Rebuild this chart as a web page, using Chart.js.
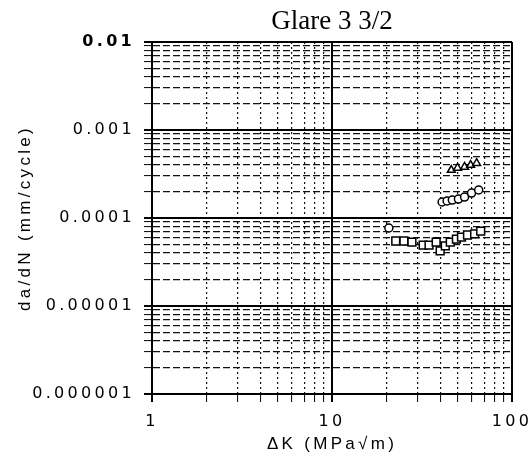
<!DOCTYPE html>
<html>
<head>
<meta charset="utf-8">
<script src="https://cdn.jsdelivr.net/npm/chart.js@4/dist/chart.umd.min.js"></script>
<style>
  html, body { margin: 0; padding: 0; background: #fff; }
  #wrap { width: 531px; height: 463px; }
</style>
</head>
<body>
<div id="wrap"><canvas id="crackChart"></canvas></div>
<script>
// Glare 3 3/2 - crack growth rate vs stress intensity range
const titleText = 'Glare 3 3/2';
const xTitle = 'ΔK (MPa√m)';
const yTitle = 'da/dN (mm/cycle)';

// upper series (triangles)
const triK = [46.0, 49.8, 54.5, 58.9, 63.6];
const triRate = [3.5e-4, 3.7e-4, 3.8e-4, 4.0e-4, 4.2e-4];

// middle series (circles)
const circK = [40.9, 43.6, 46.6, 50.4, 54.5, 59.6, 65.3];
const circRate = [1.52e-4, 1.56e-4, 1.60e-4, 1.64e-4, 1.73e-4, 1.92e-4, 2.08e-4];

// lower series, first point circle then squares
const lowCircK = [20.7];
const lowCircRate = [7.7e-5];
const sqK = [22.6, 25.1, 27.8, 32.1, 34.6, 37.9, 39.9, 42.6, 45.4, 49.1, 52.4, 56.6, 62.0, 67.0];
const sqRate = [5.48e-5, 5.48e-5, 5.33e-5, 4.93e-5, 4.93e-5, 5.33e-5, 4.22e-5, 4.81e-5, 5.33e-5, 5.77e-5, 6.08e-5, 6.41e-5, 6.6e-5, 7.1e-5];

// axis ranges and tick labels
const xDecades = [0, 1, 2];              // 1, 10, 100
const yDecades = [-6, -5, -4, -3, -2];   // 1e-6 .. 1e-2
const xTickLabels = ['1', '10', '100'];
const yTickLabels = ['0.000001', '0.00001', '0.0001', '0.001', '0.01'];

function gridValues(decades) {
  const vals = [];
  for (let i = 0; i < decades.length; i++) {
    const base = Math.pow(10, decades[i]);
    if (i === decades.length - 1) { vals.push(base); break; }
    for (let s = 1; s <= 9; s++) vals.push(s * base);
  }
  return vals;
}

function isDecade(v) {
  const e = Math.log10(v);
  return Math.abs(e - Math.round(e)) < 1e-6;
}

function toPoints(xs, ys) {
  return xs.map((x, i) => ({ x: x, y: ys[i] }));
}

const spacingPlugin = {
  id: 'spacing',
  beforeLayout(chart) { chart.ctx.letterSpacing = '3.3px'; },
  beforeDraw(chart) { chart.ctx.letterSpacing = '3.3px'; },
  afterDraw(chart) {
    const ctx = chart.ctx;
    const area = chart.chartArea;
    ctx.save();
    ctx.letterSpacing = '0px';
    ctx.font = '27px "Liberation Serif", "Times New Roman", serif';
    ctx.fillStyle = '#000';
    ctx.textAlign = 'center';
    ctx.textBaseline = 'alphabetic';
    ctx.fillText(titleText, (area.left + area.right) / 2, 29);
    ctx.restore();
  }
};

function gridOpts(tickLen) {
  return {
    color: ctx => (ctx.tick && isDecade(ctx.tick.value)) ? '#000' : '#111',
    lineWidth: ctx => (ctx.tick && isDecade(ctx.tick.value)) ? 2 : 1.2,
    tickLength: tickLen,
    tickColor: '#000',
    tickBorderDash: [],
    tickWidth: ctx => (ctx.tick && isDecade(ctx.tick.value)) ? 2 : 1
  };
}

const tickFont = { family: '"DejaVu Sans", Verdana, sans-serif', size: 16 };
const titleFont = { family: '"Liberation Sans", Arial, sans-serif', size: 17 };

const ctx = document.getElementById('crackChart').getContext('2d');
new Chart(ctx, {
  type: 'scatter',
  data: {
    datasets: [
      {
        label: 'triangles',
        data: toPoints(triK, triRate),
        pointStyle: 'triangle',
        pointRadius: 4.5,
        borderColor: '#000',
        backgroundColor: '#fff',
        borderWidth: 1.5
      },
      {
        label: 'circles',
        data: toPoints(circK, circRate),
        pointStyle: 'circle',
        pointRadius: 4,
        borderColor: '#000',
        backgroundColor: '#fff',
        borderWidth: 1.5
      },
      {
        label: 'low circle',
        data: toPoints(lowCircK, lowCircRate),
        pointStyle: 'circle',
        pointRadius: 4,
        borderColor: '#000',
        backgroundColor: '#fff',
        borderWidth: 1.5
      },
      {
        label: 'squares',
        data: toPoints(sqK, sqRate),
        pointStyle: 'rect',
        pointRadius: 5.5,
        borderColor: '#000',
        backgroundColor: '#fff',
        borderWidth: 1.5
      }
    ]
  },
  options: {
    responsive: true,
    maintainAspectRatio: false,
    animation: false,
    layout: { padding: { top: 42, right: 19, bottom: 0, left: 0 } },
    plugins: {
      legend: { display: false },
      tooltip: { enabled: false },
      title: { display: false }
    },
    scales: {
      x: {
        type: 'logarithmic',
        min: 1,
        max: 100,
        afterBuildTicks: scale => { scale.ticks = gridValues(xDecades).map(v => ({ value: v })); },
        afterFit: scale => {
          scale.height = 69;
          scale.paddingLeft = 0;
          scale.paddingRight = 0;
        },
        grid: gridOpts(8),
        border: {
          display: true,
          color: '#000',
          width: 2,
          dash: ctx => (ctx.tick && !isDecade(ctx.tick.value)) ? [2, 3] : []
        },
        ticks: {
          autoSkip: false,
          maxRotation: 0,
          padding: 10,
          color: '#000',
          font: tickFont,
          callback: value => isDecade(value) ? xTickLabels[Math.round(Math.log10(value)) - xDecades[0]] : ''
        },
        title: {
          display: true,
          text: xTitle,
          color: '#000',
          font: titleFont,
          padding: { top: 0, bottom: 8 }
        }
      },
      y: {
        type: 'logarithmic',
        min: 1e-6,
        max: 1e-2,
        afterBuildTicks: scale => { scale.ticks = gridValues(yDecades).map(v => ({ value: v })); },
        afterFit: scale => {
          scale.width = 152;
          scale.paddingTop = 0;
          scale.paddingBottom = 0;
        },
        grid: gridOpts(8),
        border: {
          display: true,
          color: '#000',
          width: 2,
          dash: ctx => (ctx.tick && !isDecade(ctx.tick.value)) ? [7, 3] : []
        },
        ticks: {
          autoSkip: false,
          padding: 9,
          color: '#000',
          font: ctx => ({
            family: tickFont.family,
            size: tickFont.size,
            weight: (ctx.tick && Math.abs(ctx.tick.value - 1e-2) < 1e-9) ? 'bold' : 'normal'
          }),
          callback: value => isDecade(value) ? yTickLabels[Math.round(Math.log10(value)) - yDecades[0]] : ''
        },
        title: {
          display: true,
          text: yTitle,
          color: '#000',
          font: titleFont,
          padding: { top: 15, bottom: 0 }
        }
      }
    }
  },
  plugins: [spacingPlugin]
});
</script>
</body>
</html>
